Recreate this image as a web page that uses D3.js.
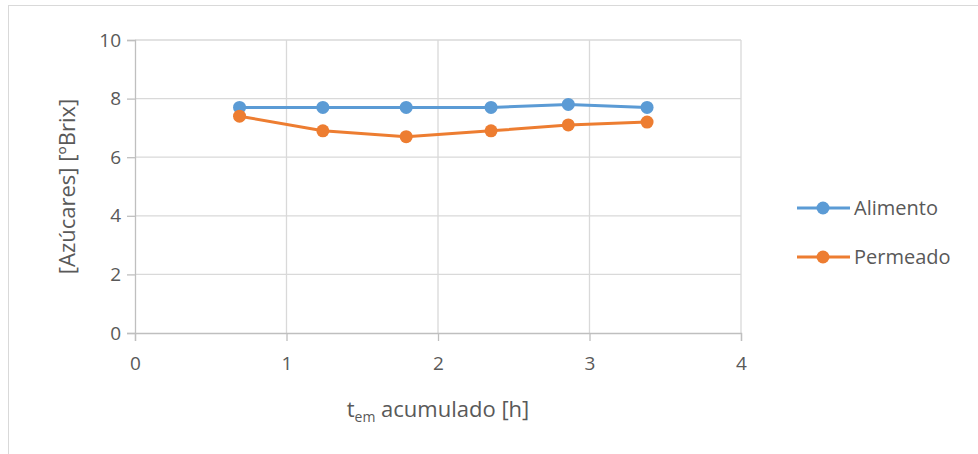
<!DOCTYPE html>
<html>
<head>
<meta charset="utf-8">
<script src="https://cdn.jsdelivr.net/npm/d3@7"></script>
<style>
  body { margin: 0; background: #fff; }
  text { font-family: "Open Sans", "Noto Sans", sans-serif; fill: #595959; }
</style>
</head>
<body>
<svg></svg>
<script>
const size = {w: 978, h: 454};
const plot = {l: 135, r: 741, t: 40, b: 333};

// data
const tiempo = [0.69, 1.24, 1.79, 2.35, 2.86, 3.38];
const alimento = [7.7, 7.7, 7.7, 7.7, 7.8, 7.7];
const permeado = [7.4, 6.9, 6.7, 6.9, 7.1, 7.2];
const seriesNames = ['Alimento', 'Permeado'];
const seriesColors = ['#5b9bd5', '#ed7d31'];
const xTicks = [0, 1, 2, 3, 4];
const yTicks = [0, 2, 4, 6, 8, 10];

const svg = d3.select('svg')
    .attr('width', size.w)
    .attr('height', size.h);

// chart border
svg.append('rect')
    .attr('x', 8.5).attr('y', 5.5)
    .attr('width', size.w).attr('height', size.h)
    .attr('fill', 'none')
    .attr('stroke', '#d9d9d9');

const x = d3.scaleLinear().domain([0, 4]).range([plot.l, plot.r]);
const y = d3.scaleLinear().domain([0, 10]).range([plot.b, plot.t]);

// gridlines
const grid = svg.append('g').attr('stroke', '#d9d9d9').attr('stroke-width', 1.3);
grid.selectAll('line.h')
    .data(yTicks.slice(1))
    .join('line')
    .attr('x1', plot.l).attr('x2', plot.r)
    .attr('y1', d => y(d)).attr('y2', d => y(d));
grid.selectAll('line.v')
    .data(xTicks.slice(1))
    .join('line')
    .attr('x1', d => x(d)).attr('x2', d => x(d))
    .attr('y1', plot.t).attr('y2', plot.b);

// axes
const xAxis = svg.append('g')
    .attr('transform', `translate(0,${plot.b})`)
    .call(d3.axisBottom(x).tickValues(xTicks).tickFormat(d3.format('d')).tickSize(8).tickPadding(16));
const yAxis = svg.append('g')
    .attr('transform', `translate(${plot.l},0)`)
    .call(d3.axisLeft(y).tickValues(yTicks).tickFormat(d3.format('d')).tickSize(8).tickPadding(6));

[xAxis, yAxis].forEach(a => {
    a.select('.domain').attr('stroke', '#bfbfbf').attr('stroke-width', 1.3);
    a.selectAll('.tick line').attr('stroke', '#bfbfbf').attr('stroke-width', 1.3);
    a.selectAll('.tick text')
        .style('font-size', '19px')
        .style('font-family', '"Open Sans", sans-serif')
        .attr('fill', '#595959');
});

// series
const allSeries = [alimento, permeado];
const line = d3.line()
    .x((d, i) => x(tiempo[i]))
    .y(d => y(d));

allSeries.forEach((vals, s) => {
    const g = svg.append('g');
    g.append('path')
        .datum(vals)
        .attr('d', line)
        .attr('fill', 'none')
        .attr('stroke', seriesColors[s])
        .attr('stroke-width', 3)
        .attr('stroke-linejoin', 'round');
    g.selectAll('circle')
        .data(vals)
        .join('circle')
        .attr('cx', (d, i) => x(tiempo[i]))
        .attr('cy', d => y(d))
        .attr('r', 6.5)
        .attr('fill', seriesColors[s]);
});

// axis titles
const xTitle = svg.append('text')
    .attr('x', (plot.l + plot.r) / 2)
    .attr('y', 417)
    .attr('text-anchor', 'middle')
    .style('font-size', '22px');
xTitle.append('tspan').text('t');
xTitle.append('tspan').attr('dy', 5).style('font-size', '14px').text('em');
xTitle.append('tspan').attr('dy', -5).text(' acumulado [h]');

svg.append('text')
    .attr('transform', `translate(75,${(plot.t + plot.b) / 2}) rotate(-90)`)
    .attr('text-anchor', 'middle')
    .style('font-size', '22px')
    .text('[Azúcares] [ºBrix]');

// legend
const legend = svg.append('g');
seriesNames.forEach((name, i) => {
    const ly = 208 + i * 49;
    legend.append('line')
        .attr('x1', 797).attr('x2', 850)
        .attr('y1', ly).attr('y2', ly)
        .attr('stroke', seriesColors[i])
        .attr('stroke-width', 3);
    legend.append('circle')
        .attr('cx', 823).attr('cy', ly).attr('r', 6.5)
        .attr('fill', seriesColors[i]);
    legend.append('text')
        .attr('x', 854).attr('y', ly + 7)
        .style('font-size', '20px')
        .text(name);
});
</script>
</body>
</html>
